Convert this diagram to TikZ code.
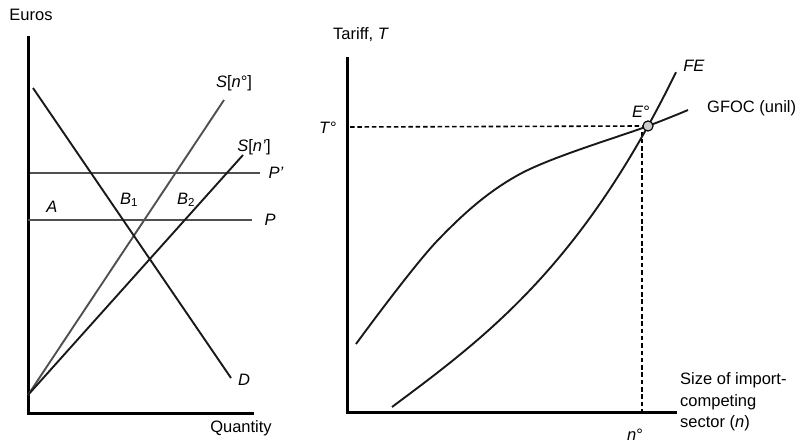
\documentclass[tikz,border=0pt]{standalone}
\usepackage{fontspec}
\setmainfont{Liberation Sans}
\usepackage{tikz}
\usetikzlibrary{positioning,calc}
\definecolor{lineGrey}{RGB}{80,80,80}
\tikzset{
    axis/.style={line width=3pt, line cap=rect},
    curve/.style={line width=1.9pt, black!90},
    greycurve/.style={line width=1.9pt, lineGrey},
    guide/.style={line width=1.6pt, dash pattern=on 4.5pt off 2.8pt},
    lbl/.style={inner sep=0pt, font=\fontsize{16.5}{20}\selectfont},
    eqpt/.style={circle, draw, line width=1pt, fill=black!20,
                 minimum size=10pt, inner sep=0pt},
}
\begin{document}
\begin{tikzpicture}[x=1pt, y=-1pt]
    \useasboundingbox (0,0) rectangle (809,444);
    % left panel: market for the import-competing good
    \coordinate (o1) at (28,413);
    \coordinate (ytop1) at (28,38);
    \coordinate (xend1) at (252,413);
    \draw[axis] (ytop1) -- (o1) -- (xend1);
    \node[lbl] (euros) at (31,15) {Euros};
    \node[lbl] (qty) at (241,428) {Quantity};

    \coordinate (s0) at (28,395);
    \draw[greycurve] (30,173) -- (260,173) coordinate (pp);
    \draw[greycurve] (28,220) -- (252,220) coordinate (p);
    \draw[greycurve] (s0) -- (224,100) coordinate (sno);
    \draw[curve] (s0) -- (243,155) coordinate (snp);
    \draw[curve] (33,88) -- (231,378) coordinate (d);

    \node[lbl] (lsno) at (234,83) {\textit{S}[\textit{n}°]};
    \node[lbl] (lsnp) at (254,147) {\textit{S}[\textit{n’}]};
    \node[lbl] (lpp) at (276,173) {\textit{P’}};
    \node[lbl] (lp) at (270,220) {\textit{P}};
    \node[lbl] (ld) at (244,380) {\textit{D}};
    \node[lbl] (la) at (52,207) {\textit{A}};
    \node[lbl] (lb1) at (129,200) {\textit{B}\textsubscript{1}};
    \node[lbl] (lb2) at (186,200) {\textit{B}\textsubscript{2}};

    % right panel: political equilibrium
    \coordinate (o2) at (347,412);
    \coordinate (ytop2) at (347,59);
    \coordinate (xend2) at (675,412);
    \draw[axis] (ytop2) -- (o2) -- (xend2);
    \node[lbl] (tariff) at (361,35) {Tariff, \textit{T}};

    \node[eqpt] (eq) at (648,126) {};
    \draw[guide] (350,127) -- (eq.west);
    \draw[guide] (eq.south) ++(-6pt,0) |- (xend2);
    % FE: convex, steepening towards E
    \draw[curve] plot[domain=0:284, samples=60, smooth]
        ({392+\x},{407-0.745*\x-5.38*(\x/100)^3});
    % GFOC (unil)
    \draw[curve] plot[smooth, tension=0.55] coordinates {
        (356,344) (438,240) (520,174) (648,126) (688,110)};
    \node[eqpt] at (eq) {};

    \node[lbl] (lT) at (328,128) {\textit{T}°};
    \node[lbl] (lE) at (641,112) {\textit{E}°};
    \node[lbl] (lfe) at (694,66) {\textit{FE}};
    \node[lbl, anchor=west] (lgfoc) at (707,108) {GFOC (unil)};
    \node[lbl] (ln) at (635,435) {\textit{n}°};
    \node[lbl, anchor=west, align=left,
          font=\fontsize{16.5}{21.5}\selectfont] (lsize) at (680,402)
        {Size of import-\\competing\\sector (\textit{n})};
\end{tikzpicture}
\end{document}
